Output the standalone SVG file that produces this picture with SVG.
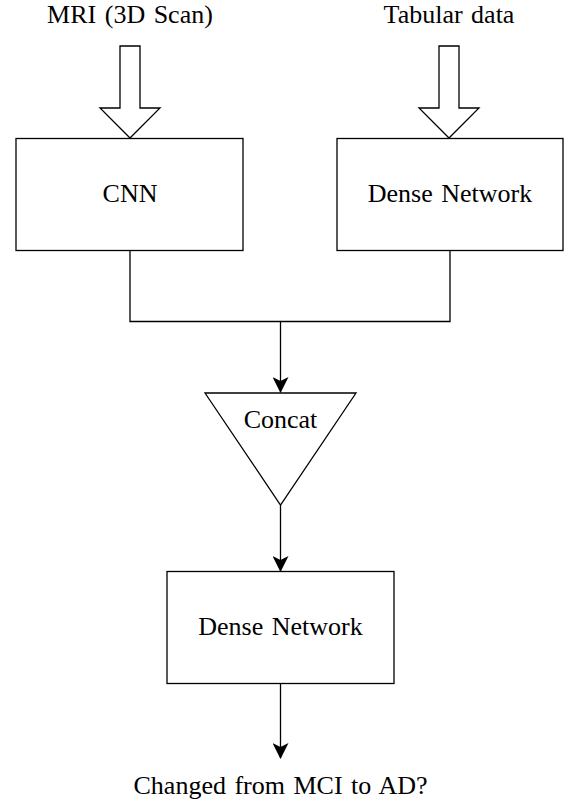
<svg xmlns="http://www.w3.org/2000/svg" width="565" height="804" viewBox="0 0 565 804">
<style>
.s{fill:#fff;stroke:#000;stroke-width:1.3}
.c{fill:none;stroke:#000;stroke-width:1.3}
.t{font-family:'Liberation Serif','Times New Roman',serif;font-size:26px;word-spacing:2px;fill:#000;text-anchor:middle}
</style>
<defs>
<marker id="ah" viewBox="0 0 16 16" refX="15" refY="8" markerWidth="16" markerHeight="16" markerUnits="userSpaceOnUse" orient="auto">
<path d="M0,0 L16,8 L0,16 L4,8 Z" fill="#000"/>
</marker>
</defs>
<g id="in-mri">
<text class="t" x="130" y="23">MRI (3D Scan)</text>
<path class="s" d="M120,46 H140 V108 H160 L130,138 L100,108 H120 Z"/>
</g>
<g id="in-tab">
<text class="t" x="449" y="23">Tabular data</text>
<path class="s" d="M439,46 H459 V108 H479 L449,138 L419,108 H439 Z"/>
</g>
<g id="cnn">
<rect class="s" x="16" y="138.5" width="227" height="112"/>
<text class="t" x="130" y="202">CNN</text>
</g>
<g id="dense1">
<rect class="s" x="337" y="138.5" width="226" height="112"/>
<text class="t" x="450" y="202">Dense Network</text>
</g>
<g id="concat">
<path class="s" d="M205,393 H356 L280.5,505 Z"/>
<text class="t" x="280.5" y="428">Concat</text>
</g>
<g id="dense2">
<rect class="s" x="167" y="571.5" width="227" height="112"/>
<text class="t" x="280.5" y="635">Dense Network</text>
</g>
<g id="output">
<text class="t" x="280.5" y="794">Changed from MCI to AD?</text>
</g>
<g id="connectors">
<path class="c" d="M130,250.5 V321.5 H450 V250.5"/>
<path class="c" d="M280.5,321.5 V392" marker-end="url(#ah)"/>
<path class="c" d="M280.5,505 V571" marker-end="url(#ah)"/>
<path class="c" d="M280.5,683.5 V758" marker-end="url(#ah)"/>
</g>
</svg>
